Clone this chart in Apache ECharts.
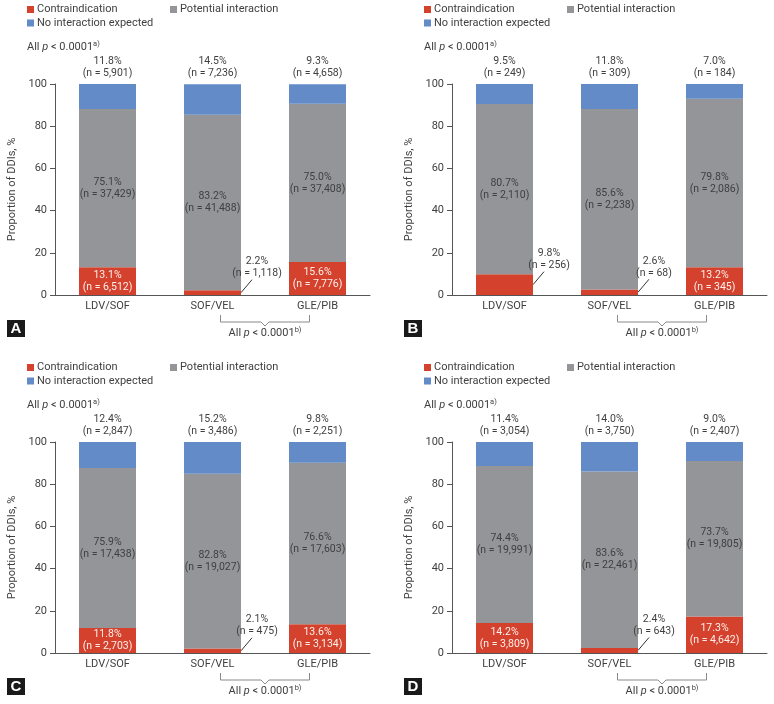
<!DOCTYPE html>
<html>
<head>
<meta charset="utf-8">
<script src="https://cdn.jsdelivr.net/npm/echarts@6/dist/echarts.min.js"></script>
<style>
  html, body { margin: 0; padding: 0; background: #fff; }
  #chart { width: 774px; height: 704px; }
</style>
</head>
<body>
<div id="chart"></div>
<script>
// categories and values (A, B, C, D)
let categories = ['LDV/SOF', 'SOF/VEL', 'GLE/PIB'];
let panelLetters = ['A', 'B', 'C', 'D'];
let seriesNames = ['Contraindication', 'Potential interaction', 'No interaction expected'];

let contraPct = [[13.1, 2.2, 15.6], [9.8, 2.6, 13.2], [11.8, 2.1, 13.6], [14.2, 2.4, 17.3]];
let contraN = [[6512, 1118, 7776], [256, 68, 345], [2703, 475, 3134], [3809, 643, 4642]];
let potentialPct = [[75.1, 83.2, 75.0], [80.7, 85.6, 79.8], [75.9, 82.8, 76.6], [74.4, 83.6, 73.7]];
let potentialN = [[37429, 41488, 37408], [2110, 2238, 2086], [17438, 19027, 17603], [19991, 22461, 19805]];
let noneExpPct = [[11.8, 14.5, 9.3], [9.5, 11.8, 7.0], [12.4, 15.2, 9.8], [11.4, 14.0, 9.0]];
let noneExpN = [[5901, 7236, 4658], [249, 309, 184], [2847, 3486, 2251], [3054, 3750, 2407]];

let yMin = 0, yMax = 100, yStep = 20;

const FONT = "Roboto, 'Liberation Sans', sans-serif";
const FS = 10.5;
const RED = '#d4422d', GRAY = '#939598', BLUE = '#628bc7';
const TXT = '#3f3f3f';
const BAR_W = 57;
const OX = [0, 397, 0, 397];
const OY = [0, 0, 358, 358];

function fmtN(v) {
    return v.toLocaleString('en-US');
}

function twoLine(p, n) {
    return p.toFixed(1) + '%\n(n = ' + fmtN(n) + ')';
}

let chart = echarts.init(document.getElementById('chart'));

let grids = [], xAxes = [], yAxes = [], series = [], legends = [];

for (let i = 0; i < 4; i++) {
    grids.push({left: 55 + OX[i], top: 84 + OY[i], width: 315, height: 211});

    xAxes.push({
        type: 'category', gridIndex: i, data: categories,
        axisLine: {lineStyle: {color: '#555', width: 1}},
        axisTick: {alignWithLabel: true, length: 4, lineStyle: {color: '#555'}},
        axisLabel: {margin: 6, fontFamily: FONT, fontSize: FS + 0.5, color: TXT}
    });

    yAxes.push({
        type: 'value', gridIndex: i, min: yMin, max: yMax, interval: yStep,
        name: 'Proportion of DDIs, %', nameLocation: 'middle', nameGap: 37,
        nameTextStyle: {fontFamily: FONT, fontSize: FS + 0.5, color: TXT},
        axisLine: {show: true, lineStyle: {color: '#555', width: 1}},
        axisTick: {show: true, length: 5, lineStyle: {color: '#555'}},
        axisLabel: {margin: 8, fontFamily: FONT, fontSize: FS + 0.5, color: TXT},
        splitLine: {show: false}
    });

    let redData = contraPct[i].map((v, j) => {
        if (v >= 10) {
            return {value: v};
        }
        // small segment: label sits to the right, joined by a leader line
        return {
            value: v,
            label: {
                position: ['100%', '50%'], offset: [16, -13],
                align: 'center', verticalAlign: 'bottom',
                color: TXT
            }
        };
    });

    series.push({
        name: seriesNames[0], type: 'bar', stack: 'p' + i,
        xAxisIndex: i, yAxisIndex: i, barWidth: BAR_W,
        itemStyle: {color: RED},
        label: {
            show: true, position: 'inside', color: '#fdeeea',
            fontFamily: FONT, fontSize: FS, lineHeight: 12,
            formatter: (p) => twoLine(contraPct[i][p.dataIndex], contraN[i][p.dataIndex])
        },
        data: redData
    });
    series.push({
        name: seriesNames[1], type: 'bar', stack: 'p' + i,
        xAxisIndex: i, yAxisIndex: i, barWidth: BAR_W,
        itemStyle: {color: GRAY},
        label: {
            show: true, position: 'inside', color: TXT,
            fontFamily: FONT, fontSize: FS, lineHeight: 12,
            formatter: (p) => twoLine(potentialPct[i][p.dataIndex], potentialN[i][p.dataIndex])
        },
        data: potentialPct[i]
    });
    series.push({
        name: seriesNames[2], type: 'bar', stack: 'p' + i,
        xAxisIndex: i, yAxisIndex: i, barWidth: BAR_W,
        itemStyle: {color: BLUE},
        label: {
            show: true, position: 'top', distance: 5, color: TXT,
            fontFamily: FONT, fontSize: FS, lineHeight: 12,
            formatter: (p) => twoLine(noneExpPct[i][p.dataIndex], noneExpN[i][p.dataIndex])
        },
        data: noneExpPct[i]
    });

    let legendPos = [[27, 4], [170, 4], [27, 17.5]];
    seriesNames.forEach((nm, k) => {
        legends.push({
            data: [nm], left: legendPos[k][0] + OX[i], top: legendPos[k][1] + OY[i],
            padding: 0, itemWidth: 7, itemHeight: 7, itemGap: 0,
            icon: 'rect', selectedMode: false,
            textStyle: {fontFamily: FONT, fontSize: FS + 0.5, color: TXT, padding: [0, 0, 0, -2]}
        });
    });
}

chart.setOption({
    animation: false,
    grid: grids,
    xAxis: xAxes,
    yAxis: yAxes,
    legend: legends,
    series: series
});

// annotations placed from the axes' own pixel mapping
let gfx = [];
let rich = {
    t: {fontFamily: FONT, fontSize: FS + 0.5, fill: TXT},
    i: {fontFamily: FONT, fontSize: FS + 0.5, fill: TXT, fontStyle: 'italic'},
    s: {fontFamily: FONT, fontSize: 7.5, fill: TXT, verticalAlign: 'top', padding: [0, 0, 6, 0]}
};

for (let i = 0; i < 4; i++) {
    let base = chart.convertToPixel({gridIndex: i}, [categories[0], 0]);
    let yBase = base[1];

    gfx.push({
        type: 'text', left: 27 + OX[i], top: 40 + OY[i],
        style: {text: '{t|All }{i|p}{t| < 0.0001}{s|a)}', rich: rich}
    });

    // panel letter
    gfx.push({
        type: 'group', left: 7 + OX[i], top: yBase + 25,
        children: [
            {type: 'rect', shape: {x: 0, y: 0, width: 18, height: 17}, style: {fill: '#1a1a1a'}},
            {type: 'text', x: 9, y: 9, style: {
                text: panelLetters[i], fill: '#fff', fontFamily: 'Liberation Sans, Arial, sans-serif',
                fontSize: 15, fontWeight: 'bold', align: 'center', verticalAlign: 'middle'}}
        ]
    });

    // bracket between SOF/VEL and GLE/PIB
    let x1 = chart.convertToPixel({gridIndex: i}, [categories[1], 0])[0] + 8;
    let x2 = chart.convertToPixel({gridIndex: i}, [categories[2], 0])[0] - 8;
    let xm = (x1 + x2) / 2;
    gfx.push({
        type: 'polyline',
        shape: {points: [[x1, yBase + 20], [x1, yBase + 27], [xm - 4, yBase + 27], [xm, yBase + 31],
                         [xm + 4, yBase + 27], [x2, yBase + 27], [x2, yBase + 20]]},
        style: {stroke: '#8a8a8a', lineWidth: 1, fill: null}
    });
    gfx.push({
        type: 'text', x: xm, y: yBase + 38,
        style: {text: '{t|All }{i|p}{t| < 0.0001}{s|b)}', rich: rich, align: 'center', verticalAlign: 'middle'}
    });

    // leader lines for labels that sit outside small red segments
    contraPct[i].forEach((v, j) => {
        if (v >= 10) return;
        let pt = chart.convertToPixel({gridIndex: i}, [categories[j], v / 2]);
        let xr = pt[0] + BAR_W / 2;
        gfx.push({
            type: 'line',
            shape: {x1: xr, y1: pt[1], x2: xr + 11, y2: pt[1] - 13},
            style: {stroke: '#333', lineWidth: 1}
        });
    });
}

chart.setOption({graphic: gfx});
</script>
</body>
</html>
